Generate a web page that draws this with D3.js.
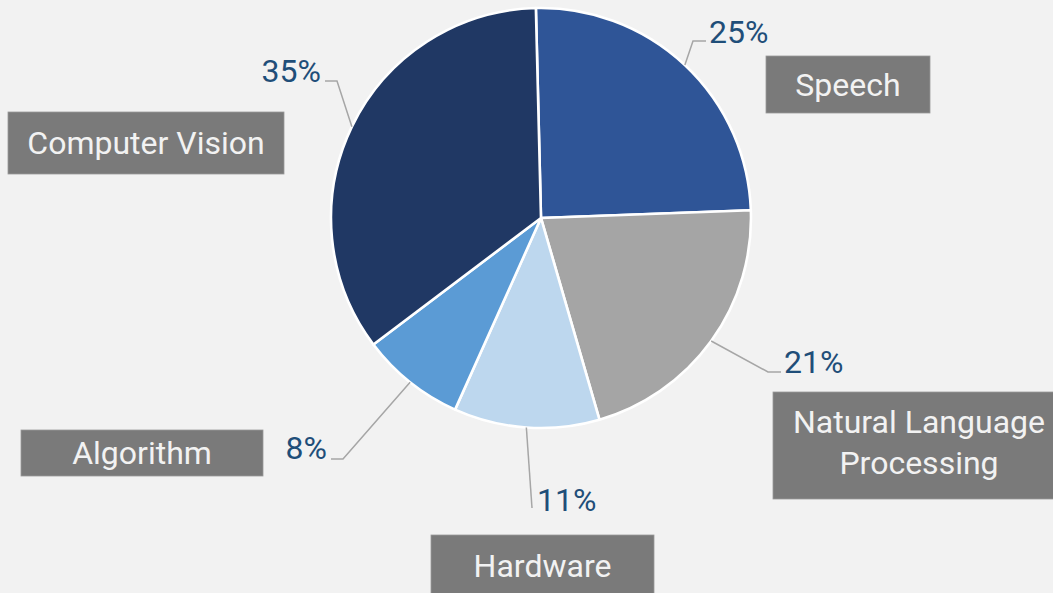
<!DOCTYPE html>
<html>
<head>
<meta charset="utf-8">
<script src="https://cdn.jsdelivr.net/npm/d3@7"></script>
<style>
  html, body { margin: 0; padding: 0; background: #f2f2f2; }
  svg { display: block; font-family: Roboto, "Noto Sans", sans-serif; }
</style>
</head>
<body>
<svg id="chart" width="1053" height="593"></svg>
<script>
// ---- data ----
const categories = ["Speech", "Natural Language Processing", "Hardware", "Algorithm", "Computer Vision"];
const values = [24.8, 21.1, 11.2, 8.0, 34.9];
const percentLabels = ["25%", "21%", "11%", "8%", "35%"];
const categoryLines = [["Speech"], ["Natural Language", "Processing"], ["Hardware"], ["Algorithm"], ["Computer Vision"]];

// ---- style / layout ----
const colors = ["#2f5597", "#a5a5a5", "#bdd7ee", "#5b9bd5", "#203864"];
const W = 1053, H = 593;
const cx = 541, cy = 218, R = 210;
const startDeg = -1.4;
const fontSize = 32;
// leader-line elbows and label anchors (layout only)
const layout = [
  { elbow: [693, 41], end: [706, 41], pct: [709, 43, "start"], box: [766, 56, 164, 57] },
  { elbow: [768, 372], end: [781, 372], pct: [784, 373, "start"], box: [773, 392, 292, 107] },
  { elbow: [532, 508], end: [532, 508], pct: [537, 511, "start"], box: [431, 535, 223, 62] },
  { elbow: [343, 459], end: [331, 459], pct: [327, 459, "end"], box: [21, 430, 242, 46] },
  { elbow: [337, 81], end: [325, 81], pct: [321, 82, "end"], box: [8, 112, 276, 62] }
];

const svg = d3.select("#chart");
svg.append("rect").attr("width", W).attr("height", H).attr("fill", "#f2f2f2");

const data = categories.map((c, i) => ({ name: c, value: values[i], i }));
const pie = d3.pie().value(d => d.value).sort(null)
  .startAngle(startDeg * Math.PI / 180)
  .endAngle((startDeg + 360) * Math.PI / 180);
const arcs = pie(data);
const arc = d3.arc().innerRadius(0).outerRadius(R);
const edgeArc = d3.arc().innerRadius(R).outerRadius(R);

const g = svg.append("g").attr("transform", `translate(${cx},${cy})`);
g.selectAll("path.slice").data(arcs).enter().append("path")
  .attr("class", "slice")
  .attr("d", arc)
  .attr("fill", d => colors[d.data.i])
  .attr("stroke", "#ffffff")
  .attr("stroke-width", 2.6)
  .attr("stroke-linejoin", "round");

// leader lines
arcs.forEach(d => {
  const L = layout[d.data.i];
  const c = edgeArc.centroid(d);
  const p0 = [cx + c[0], cy + c[1]];
  const pts = [p0, L.elbow, L.end];
  svg.append("path")
    .attr("d", d3.line()(pts))
    .attr("fill", "none")
    .attr("stroke", "#a6a6a6")
    .attr("stroke-width", 1.5);
  svg.append("text")
    .attr("x", L.pct[0]).attr("y", L.pct[1])
    .attr("text-anchor", L.pct[2])
    .attr("font-size", fontSize)
    .attr("fill", "#1f4e79")
    .text(percentLabels[d.data.i]);
});

// category boxes
categories.forEach((c, i) => {
  const L = layout[i];
  const [bx, by, bw, bh] = L.box;
  svg.append("rect")
    .attr("x", bx).attr("y", by).attr("width", bw).attr("height", bh)
    .attr("fill", "#7a7a7a")
    .attr("stroke", "#9a9a9a").attr("stroke-width", 0.8);
  const lines = categoryLines[i];
  const lh = 41;
  const midY = by + bh / 2;
  lines.forEach((ln, k) => {
    const y = midY + (k - (lines.length - 1) / 2) * lh + 11 - (lines.length > 1 ? 3.5 : 0);
    svg.append("text")
      .attr("x", bx + bw / 2).attr("y", y)
      .attr("text-anchor", "middle")
      .attr("font-size", fontSize)
      .attr("fill", "#f2f2f2")
      .text(ln);
  });
});
</script>
</body>
</html>
